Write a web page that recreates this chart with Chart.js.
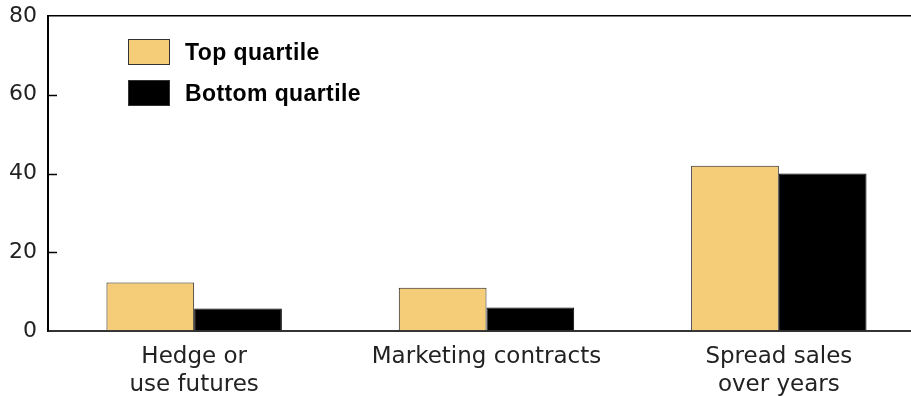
<!DOCTYPE html>
<html lang="en">
<head>
    <meta charset="UTF-8">
    <title>Marketing practices by quartile</title>
    <style>
        html, body {
            margin: 0;
            padding: 0;
            background: #fff;
            overflow: hidden;
        }
        .wrap {
            position: relative;
            width: 925px;
            height: 396px;
        }
        .legend {
            position: absolute;
            left: 128px;
            top: 39px;
            font-family: "Liberation Sans", Arial, sans-serif;
            font-weight: bold;
            font-size: 23px;
            letter-spacing: 0.4px;
            color: #000;
        }
        .legend div {
            display: flex;
            align-items: center;
            height: 26px;
            margin-bottom: 15px;
        }
        .legend span.box {
            display: inline-block;
            width: 42px;
            height: 26px;
            box-sizing: border-box;
            border: 1px solid #333;
            margin-right: 15px;
        }
    </style>
    <script src="https://cdn.jsdelivr.net/npm/chart.js"></script>
</head>
<body>
    <div class="wrap">
        <canvas id="barChart" width="925" height="396"></canvas>
        <div class="legend" id="legend"></div>
    </div>

    <script>
        // data
        const categories = [['Hedge or', 'use futures'], 'Marketing contracts', ['Spread sales', 'over years']];
        const seriesNames = ['Top quartile', 'Bottom quartile'];
        const topQuartile = [12.3, 11.0, 42.0];
        const bottomQuartile = [5.7, 6.0, 40.0];
        const yTicks = [0, 20, 40, 60, 80];

        const colors = ['#F5CD79', '#000000'];
        const labelFont = { family: '"DejaVu Sans", sans-serif', size: 23, lineHeight: 1.22 };

        // short ticks drawn inward from the y axis
        const innerTicks = {
            id: 'innerTicks',
            afterDraw(chart) {
                const ctx = chart.ctx;
                const y = chart.scales.y;
                const left = chart.chartArea.left;
                ctx.save();
                ctx.strokeStyle = '#000';
                ctx.lineWidth = 1.5;
                yTicks.forEach(v => {
                    if (v === 0 || v === 80) return;
                    const py = Math.round(y.getPixelForValue(v)) + 0.5;
                    ctx.beginPath();
                    ctx.moveTo(left, py);
                    ctx.lineTo(left + 9, py);
                    ctx.stroke();
                });
                ctx.restore();
            }
        };

        const ctx = document.getElementById('barChart').getContext('2d');
        const barChart = new Chart(ctx, {
            type: 'bar',
            data: {
                labels: categories,
                datasets: [{
                    label: seriesNames[0],
                    data: topQuartile,
                    backgroundColor: colors[0],
                    borderColor: '#222',
                    borderWidth: 1
                }, {
                    label: seriesNames[1],
                    data: bottomQuartile,
                    backgroundColor: colors[1],
                    borderColor: '#000',
                    borderWidth: 1
                }]
            },
            options: {
                responsive: false,
                animation: false,
                layout: { padding: { top: 16, right: 0, left: 0, bottom: 0 } },
                plugins: {
                    legend: { display: false },
                    tooltip: { enabled: false }
                },
                datasets: {
                    bar: { categoryPercentage: 0.6, barPercentage: 1.0 }
                },
                scales: {
                    x: {
                        grid: { display: false },
                        border: { color: '#333', width: 2 },
                        ticks: {
                            color: '#222',
                            font: labelFont,
                            padding: 4,
                            maxRotation: 0
                        },
                        afterFit(scale) { scale.height = 65; }
                    },
                    y: {
                        min: 0,
                        max: 80,
                        afterBuildTicks(scale) {
                            scale.ticks = yTicks.map(v => ({ value: v }));
                        },
                        grid: {
                            drawTicks: false,
                            color: c => (c.tick && c.tick.value === 80) ? '#000' : 'rgba(0,0,0,0)',
                            lineWidth: 1.5
                        },
                        border: { color: '#000', width: 2 },
                        ticks: {
                            color: '#222',
                            font: { family: '"DejaVu Sans", sans-serif', size: 22 },
                            padding: 11
                        },
                        afterFit(scale) {
                            scale.width = 48;
                            scale.paddingTop = 0;
                            scale.paddingBottom = 0;
                        }
                    }
                }
            },
            plugins: [innerTicks]
        });

        // legend built from the datasets
        const legendEl = document.getElementById('legend');
        barChart.data.datasets.forEach(ds => {
            const row = document.createElement('div');
            const box = document.createElement('span');
            box.className = 'box';
            box.style.background = ds.backgroundColor;
            row.appendChild(box);
            row.appendChild(document.createTextNode(ds.label));
            legendEl.appendChild(row);
        });
    </script>
</body>
</html>
